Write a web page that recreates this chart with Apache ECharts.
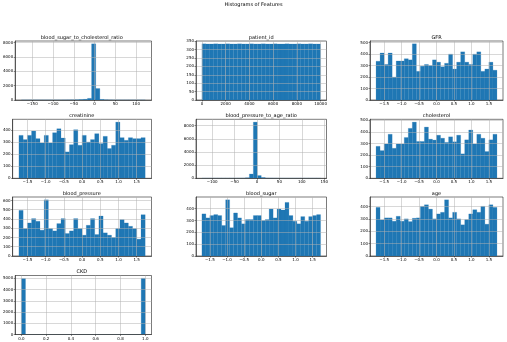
<!DOCTYPE html>
<html>
<head>
<meta charset="utf-8">
<script src="https://cdn.jsdelivr.net/npm/echarts@6/dist/echarts.min.js"></script>
<style>
html,body{margin:0;padding:0;background:#fff;}
#chart{width:507px;height:342px;}
</style>
</head>
<body>
<div id="chart"></div>
<script>
// ---------- DATA ----------
const figureTitle = 'Histograms of Features';
const panelTitles = ['blood_sugar_to_cholesterol_ratio', 'patient_id', 'GFR',
  'creatinine', 'blood_pressure_to_age_ratio', 'cholesterol',
  'blood_pressure', 'blood_sugar', 'age', 'CKD'];

const bsCholRatioCounts = [1,0,0,0,0,1,0,1,2,3,5,9,16,30,60,100,230,7820,1600,80,25,8,4,2,1,1,0,0,0,1];
const patientIdCounts = [334,333,333,334,333,333,334,333,333,334,333,333,334,333,333,334,333,333,334,333,333,334,333,333,334,333,333,334,333,333];
const gfrCounts = [338,410,310,410,200,340,340,360,350,490,250,295,310,300,350,330,290,320,400,270,330,420,330,310,400,420,250,270,330,260];
const creatinineCounts = [356,321,356,392,329,293,356,293,378,411,334,219,279,403,274,356,301,321,370,288,348,247,274,466,337,315,337,329,329,337];
const bpAgeRatioCounts = [1,0,0,1,0,1,2,3,6,12,30,80,650,8550,420,120,50,25,12,6,4,2,1,1,0,0,1,0,0,1];
const cholesterolCounts = [276,239,296,380,259,296,296,352,431,485,318,318,442,338,330,372,346,310,358,315,372,211,332,417,296,380,346,231,332,380];
const bloodPressureCounts = [493,296,357,404,375,279,607,296,271,350,404,243,271,404,296,225,332,404,232,432,250,225,200,296,393,357,321,296,182,446];
const bloodSugarCounts = [356,322,342,350,342,258,475,239,364,322,272,308,308,342,342,300,308,397,322,397,389,453,342,294,272,333,294,333,342,350];
const ageCounts = [393,292,308,308,281,321,281,300,278,305,308,401,414,379,300,340,353,454,308,353,300,252,294,340,374,353,401,257,414,393];
const ckdCounts = [4990,0,0,0,0,0,0,0,0,0,0,0,0,0,0,0,0,0,0,0,0,0,0,0,0,0,0,0,0,5010];

// data range covered by the 30 bins of each panel
const binLow  = [-176, 1,     -1.732, -1.732, -122.8, -1.732, -1.732, -1.732, -1.732, 0];
const binHigh = [122,  10000,  1.732,  1.732,  141.8,  1.732,  1.732,  1.732,  1.732, 1];
// x axis ranges
const xLow  = [-191, -499,  -1.905, -1.905, -136, -1.905, -1.905, -1.905, -1.905, -0.05];
const xHigh = [137,  10500,  1.905,  1.905,  155,  1.905,  1.905,  1.905,  1.905,  1.05];

// tick values and labels
const ratioTicks1 = [-150,-100,-50,0,50,100];
const ratioLabels1 = ['\u2212150','\u2212100','\u221250','0','50','100'];
const idTicks = [0,2000,4000,6000,8000,10000];
const idLabels = ['0','2000','4000','6000','8000','10000'];
const stdTicks = [-1.5,-1.0,-0.5,0,0.5,1.0,1.5];
const stdLabels = ['\u22121.5','\u22121.0','\u22120.5','0.0','0.5','1.0','1.5'];
const ratioTicks2 = [-100,-50,0,50,100,150];
const ratioLabels2 = ['\u2212100','\u221250','0','50','100','150'];
const ckdTicks = [0,0.2,0.4,0.6,0.8,1.0];
const ckdLabels = ['0.0','0.2','0.4','0.6','0.8','1.0'];

const yTicksBsChol = [0,2000,4000,6000,8000];
const yTicksId = [0,50,100,150,200,250,300,350];
const yTicks500 = [0,100,200,300,400,500];
const yTicks400 = [0,100,200,300,400];
const yTicks600 = [0,100,200,300,400,500,600];
const yTicksCkd = [0,1000,2000,3000,4000,5000];

// ---------- ASSEMBLY ----------
const panelCounts = [bsCholRatioCounts, patientIdCounts, gfrCounts, creatinineCounts, bpAgeRatioCounts,
  cholesterolCounts, bloodPressureCounts, bloodSugarCounts, ageCounts, ckdCounts];
const panelXTicks = [ratioTicks1, idTicks, stdTicks, stdTicks, ratioTicks2, stdTicks, stdTicks, stdTicks, stdTicks, ckdTicks];
const panelXLabels = [ratioLabels1, idLabels, stdLabels, stdLabels, ratioLabels2, stdLabels, stdLabels, stdLabels, stdLabels, ckdLabels];
const panelYTicks = [yTicksBsChol, yTicksId, yTicks500, yTicks400, yTicksBsChol, yTicks500, yTicks600, yTicks400, yTicks400, yTicksCkd];

// layout (px)
const colLeft = [12, 196, 370];
const colRight = [151.5, 326.5, 503];
const rowTop = [41, 119.3, 197, 275.5];
const rowH = 59;

const FONT = 'DejaVu Sans';
const BAR = '#1f77b4';
const GRIDC = '#b0b0b0';

const grids = [], xAxes = [], yAxes = [], series = [], graphics = [];

function makeLabelFormatter(vals, labels) {
  return function (v) {
    for (let k = 0; k < vals.length; k++) {
      if (Math.abs(vals[k] - v) < 1e-6 * Math.max(1, Math.abs(vals[k]))) return labels[k];
    }
    return '';
  };
}

panelCounts.forEach(function (counts, i) {
  const r = Math.floor(i / 3), c = i % 3;
  const left = colLeft[c], width = colRight[c] - colLeft[c];
  const top = rowTop[r];
  grids.push({left: left, top: top, width: width, height: rowH,
    show: true, borderColor: '#222', borderWidth: 0.6, backgroundColor: '#fff', containLabel: false});

  const n = counts.length;
  const w = (binHigh[i] - binLow[i]) / n;
  const data = counts.map(function (cnt, k) {
    return [binLow[i] + k * w, binLow[i] + (k + 1) * w, cnt];
  });
  const yMax = Math.max.apply(null, counts) * 1.05;

  xAxes.push({
    type: 'value', gridIndex: i, min: xLow[i], max: xHigh[i], z: 3,
    axisLine: {show: true, onZero: false, lineStyle: {color: '#222', width: 0.6}},
    axisTick: {show: true, customValues: panelXTicks[i], length: 1.5, lineStyle: {color: '#222', width: 0.5}},
    axisLabel: {show: true, customValues: panelXTicks[i], formatter: makeLabelFormatter(panelXTicks[i], panelXLabels[i]),
      fontSize: 4, fontFamily: FONT, color: '#000', margin: 2},
    splitLine: {show: true, lineStyle: {color: GRIDC, width: 0.5}}
  });
  yAxes.push({
    type: 'value', gridIndex: i, min: 0, max: yMax, z: 3,
    axisLine: {show: true, onZero: false, lineStyle: {color: '#222', width: 0.6}},
    axisTick: {show: true, customValues: panelYTicks[i], length: 1.5, lineStyle: {color: '#222', width: 0.5}},
    axisLabel: {show: true, customValues: panelYTicks[i], formatter: function (v) { return String(Math.round(v)); },
      fontSize: 4, fontFamily: FONT, color: '#000', margin: 2},
    splitLine: {show: true, lineStyle: {color: GRIDC, width: 0.5}}
  });
  series.push({
    type: 'custom', xAxisIndex: i, yAxisIndex: i, data: data, silent: true, z: 2,
    encode: {x: [0, 1], y: 2},
    renderItem: function (params, api) {
      const p0 = api.coord([api.value(0), api.value(2)]);
      const p1 = api.coord([api.value(1), 0]);
      return {type: 'rect',
        shape: {x: p0[0], y: p0[1], width: p1[0] - p0[0], height: p1[1] - p0[1]},
        style: {fill: BAR, stroke: BAR, lineWidth: 0.2}};
    }
  });
  graphics.push({type: 'text', x: left + width / 2, y: top - 3.6, silent: true,
    style: {text: panelTitles[i], fontSize: 5, fontFamily: FONT, fill: '#000', align: 'center', verticalAlign: 'middle'}});
});

graphics.push({type: 'text', x: 253.5, y: 4.5, silent: true,
  style: {text: figureTitle, fontSize: 5, fontFamily: FONT, fill: '#000', align: 'center', verticalAlign: 'middle'}});

const chart = echarts.init(document.getElementById('chart'), null, {renderer: 'canvas'});
chart.setOption({
  animation: false,
  backgroundColor: '#fff',
  grid: grids,
  xAxis: xAxes,
  yAxis: yAxes,
  series: series,
  graphic: graphics
});
</script>
</body>
</html>
